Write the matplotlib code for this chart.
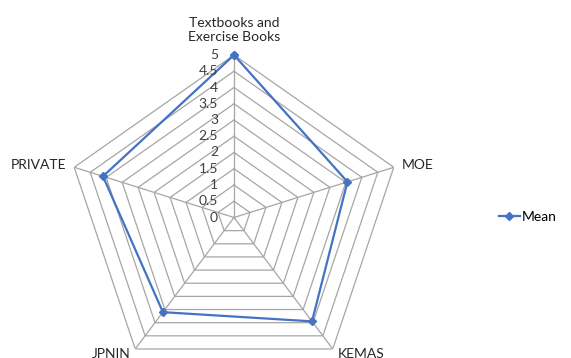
import numpy as np
import matplotlib
matplotlib.use("Agg")
import matplotlib.pyplot as plt
import matplotlib.transforms as mtransforms

categories = ["Textbooks and\nExercise Books", "MOE", "KEMAS", "JPNIN", "PRIVATE"]
mean_values = [5.0, 3.55, 3.95, 3.6, 4.1]
rings = [0.5, 1.0, 1.5, 2.0, 2.5, 3.0, 3.5, 4.0, 4.5, 5.0]
tick_labels = ["0", "0.5", "1", "1.5", "2", "2.5", "3", "3.5", "4", "4.5", "5"]

plt.rcParams["font.family"] = ["Lato", "DejaVu Sans"]

W, H = 571, 358
fig = plt.figure(figsize=(W / 100, H / 100), dpi=100)
# the radar in the reference is a little wider than tall
cx, cy, Rx, Ry = 234, 217.5, 168, 162.5
ax = fig.add_axes([(cx - Rx) / W, (H - cy - Ry) / H, 2 * Rx / W, 2 * Ry / H],
                  projection="polar")
ax.set_aspect("auto")
ax.set_theta_offset(np.pi / 2)
ax.set_theta_direction(-1)
ax.set_ylim(0, 5)
ax.set_xticks([])
ax.set_yticks([])
ax.grid(False)
ax.spines["polar"].set_visible(False)
ax.patch.set_visible(False)

n = len(categories)
theta = np.linspace(0, 2 * np.pi, n, endpoint=False)
theta_c = np.append(theta, theta[0])

grid_col = "#a6a6a6"
for r in rings:
    ax.plot(theta_c, [r] * (n + 1), color=grid_col, lw=0.9, zorder=1)
for t in theta:
    ax.plot([t, t], [0, 5], color=grid_col, lw=0.9, zorder=1)

vals = mean_values + mean_values[:1]
line, = ax.plot(theta_c, vals, color="#4472c4", lw=1.6, marker="D",
                ms=4, zorder=3, label="Mean", clip_on=False)

# radial tick labels along the top spoke
off = mtransforms.offset_copy(ax.transData, fig=fig, x=-16, y=0, units="dots")
for i, lab in enumerate(tick_labels):
    ax.text(0, i * 0.5, lab, transform=off, ha="right", va="center",
            fontsize=10, color="#404040")


def shifted(dx, dy):
    return mtransforms.offset_copy(ax.transData, fig=fig, x=dx, y=dy, units="dots")


# category labels
lab_style = dict(fontsize=10, color="#262626")
ax.text(0, 5, categories[0], ha="center", va="bottom", linespacing=1.2,
        transform=shifted(0, 12), **lab_style)
ax.text(theta[1], 5, categories[1], ha="left", va="center",
        transform=shifted(8, 2), **lab_style)
ax.text(theta[2], 5, categories[2], ha="left", va="top",
        transform=shifted(5, 1), **lab_style)
ax.text(theta[3], 5, categories[3], ha="right", va="top",
        transform=shifted(-5, 1), **lab_style)
ax.text(theta[4], 5, categories[4], ha="right", va="center",
        transform=shifted(-8, 2), **lab_style)

fig.legend(handles=[line], loc="center left", bbox_to_anchor=(499 / W, 1 - 217 / H),
           frameon=False, fontsize=10, handlelength=1.5, handletextpad=0.15,
           borderaxespad=0, borderpad=0)

fig.savefig("out.png", dpi=100)
